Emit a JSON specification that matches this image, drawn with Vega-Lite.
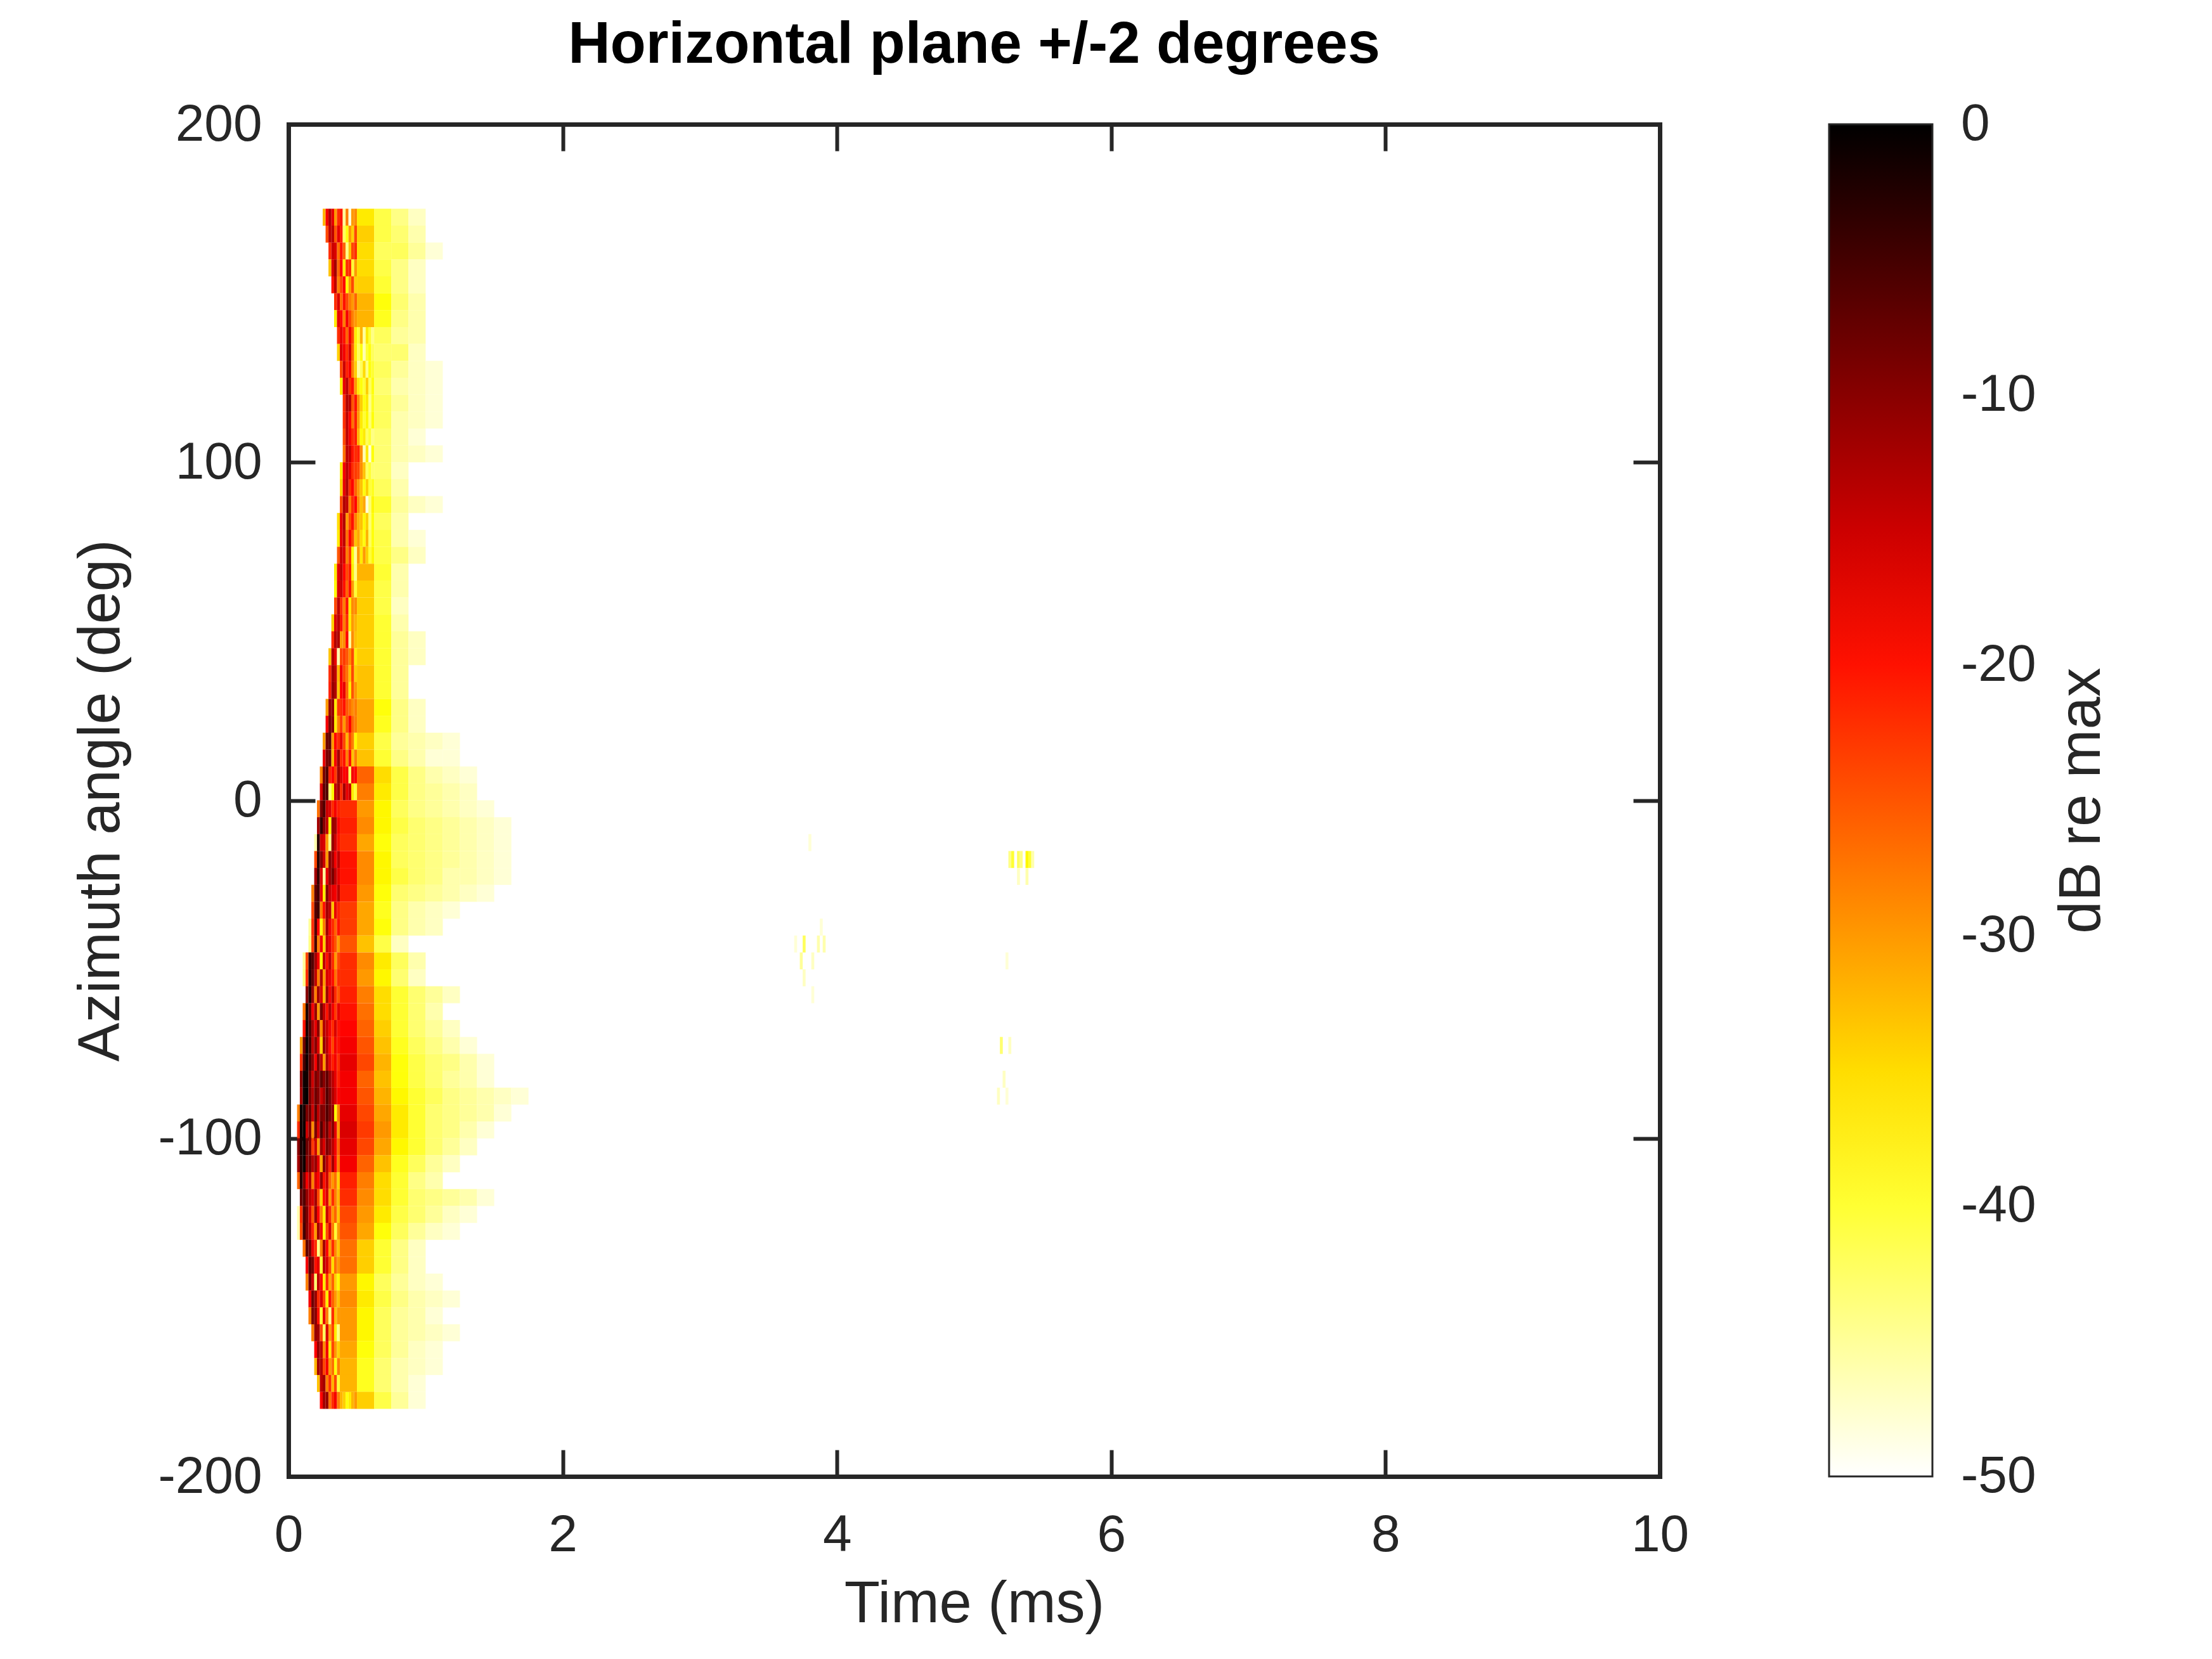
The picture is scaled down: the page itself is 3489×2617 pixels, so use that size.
{
"$schema":"https://vega.github.io/schema/vega-lite/v6.json",
"background":"white",
"padding":{"left":113,"top":25,"right":5,"bottom":5},
"config":{"font":"Liberation Sans","view":{"stroke":null},
"axis":{"grid":false,"domainColor":"#262626","domainWidth":7,"domainCap":"square","tickColor":"#262626","tickWidth":6,"tickSize":-42,"labelFontSize":82,"labelColor":"#262626","labelFont":"Liberation Sans","labelLimit":0,"titleFontSize":92,"titleFont":"Liberation Sans","titleColor":"#262626","titleFontWeight":"normal","titleLimit":0,"labelOverlap":false,"labelExpr":"'' + datum.value"},
"legend":{"padding":0,"labelFont":"Liberation Sans","titleFont":"Liberation Sans"}},
"datasets":{
"core":[
{"a":170,"t":0.25,"v":-32},{"a":170,"t":0.271,"v":-18},{"a":170,"t":0.292,"v":-13},{"a":170,"t":0.313,"v":-17},{"a":170,"t":0.333,"v":-30},{"a":170,"t":0.354,"v":-22},{"a":170,"t":0.375,"v":-20},{"a":170,"t":0.396,"v":-45},{"a":170,"t":0.417,"v":-28},{"a":170,"t":0.438,"v":-48},{"a":170,"t":0.458,"v":-30},{"a":170,"t":0.479,"v":-29},
{"a":165,"t":0.271,"v":-24},{"a":165,"t":0.292,"v":-14},{"a":165,"t":0.313,"v":-14},{"a":165,"t":0.333,"v":-25},{"a":165,"t":0.354,"v":-17},{"a":165,"t":0.375,"v":-21},{"a":165,"t":0.396,"v":-42},{"a":165,"t":0.417,"v":-38},{"a":165,"t":0.438,"v":-30},{"a":165,"t":0.458,"v":-34},{"a":165,"t":0.479,"v":-24},
{"a":160,"t":0.292,"v":-22},{"a":160,"t":0.313,"v":-15},{"a":160,"t":0.333,"v":-16},{"a":160,"t":0.354,"v":-27},{"a":160,"t":0.375,"v":-20},{"a":160,"t":0.396,"v":-26},{"a":160,"t":0.417,"v":-44},{"a":160,"t":0.438,"v":-33},{"a":160,"t":0.458,"v":-24},{"a":160,"t":0.479,"v":-22},
{"a":155,"t":0.292,"v":-33},{"a":155,"t":0.313,"v":-16},{"a":155,"t":0.333,"v":-12},{"a":155,"t":0.354,"v":-26},{"a":155,"t":0.375,"v":-19},{"a":155,"t":0.396,"v":-36},{"a":155,"t":0.417,"v":-22},{"a":155,"t":0.438,"v":-22},{"a":155,"t":0.458,"v":-40},{"a":155,"t":0.479,"v":-30},
{"a":150,"t":0.313,"v":-20},{"a":150,"t":0.333,"v":-14},{"a":150,"t":0.354,"v":-28},{"a":150,"t":0.375,"v":-24},{"a":150,"t":0.396,"v":-19},{"a":150,"t":0.417,"v":-37},{"a":150,"t":0.438,"v":-30},{"a":150,"t":0.458,"v":-24},{"a":150,"t":0.479,"v":-34},
{"a":145,"t":0.333,"v":-22},{"a":145,"t":0.354,"v":-16},{"a":145,"t":0.375,"v":-27},{"a":145,"t":0.396,"v":-20},{"a":145,"t":0.417,"v":-24},{"a":145,"t":0.438,"v":-28},{"a":145,"t":0.458,"v":-30},{"a":145,"t":0.479,"v":-26},
{"a":140,"t":0.333,"v":-36},{"a":140,"t":0.354,"v":-17},{"a":140,"t":0.375,"v":-19},{"a":140,"t":0.396,"v":-28},{"a":140,"t":0.417,"v":-18},{"a":140,"t":0.438,"v":-24},{"a":140,"t":0.458,"v":-28},{"a":140,"t":0.479,"v":-30},
{"a":135,"t":0.354,"v":-22},{"a":135,"t":0.375,"v":-17},{"a":135,"t":0.396,"v":-20},{"a":135,"t":0.417,"v":-26},{"a":135,"t":0.438,"v":-18},{"a":135,"t":0.458,"v":-24},{"a":135,"t":0.479,"v":-36},{"a":135,"t":0.5,"v":-40},{"a":135,"t":0.521,"v":-32},{"a":135,"t":0.542,"v":-45},{"a":135,"t":0.563,"v":-36},{"a":135,"t":0.583,"v":-40},{"a":135,"t":0.604,"v":-44},
{"a":130,"t":0.354,"v":-34},{"a":130,"t":0.375,"v":-16},{"a":130,"t":0.396,"v":-18},{"a":130,"t":0.417,"v":-22},{"a":130,"t":0.438,"v":-16},{"a":130,"t":0.458,"v":-26},{"a":130,"t":0.479,"v":-36},{"a":130,"t":0.5,"v":-42},{"a":130,"t":0.521,"v":-38},{"a":130,"t":0.542,"v":-46},{"a":130,"t":0.563,"v":-40},{"a":130,"t":0.583,"v":-38},{"a":130,"t":0.604,"v":-42},
{"a":125,"t":0.375,"v":-24},{"a":125,"t":0.396,"v":-15},{"a":125,"t":0.417,"v":-21},{"a":125,"t":0.438,"v":-18},{"a":125,"t":0.458,"v":-28},{"a":125,"t":0.479,"v":-34},{"a":125,"t":0.5,"v":-45},{"a":125,"t":0.521,"v":-42},{"a":125,"t":0.542,"v":-35},{"a":125,"t":0.563,"v":-44},{"a":125,"t":0.583,"v":-38},{"a":125,"t":0.604,"v":-40},
{"a":120,"t":0.375,"v":-36},{"a":120,"t":0.396,"v":-17},{"a":120,"t":0.417,"v":-14},{"a":120,"t":0.438,"v":-22},{"a":120,"t":0.458,"v":-20},{"a":120,"t":0.479,"v":-30},{"a":120,"t":0.5,"v":-36},{"a":120,"t":0.521,"v":-38},{"a":120,"t":0.542,"v":-40},{"a":120,"t":0.563,"v":-34},{"a":120,"t":0.583,"v":-42},{"a":120,"t":0.604,"v":-38},
{"a":115,"t":0.396,"v":-22},{"a":115,"t":0.417,"v":-13},{"a":115,"t":0.438,"v":-14},{"a":115,"t":0.458,"v":-25},{"a":115,"t":0.479,"v":-20},{"a":115,"t":0.5,"v":-29},{"a":115,"t":0.521,"v":-34},{"a":115,"t":0.542,"v":-38},{"a":115,"t":0.563,"v":-36},{"a":115,"t":0.583,"v":-44},{"a":115,"t":0.604,"v":-39},
{"a":110,"t":0.396,"v":-22},{"a":110,"t":0.417,"v":-14},{"a":110,"t":0.438,"v":-19},{"a":110,"t":0.458,"v":-27},{"a":110,"t":0.479,"v":-21},{"a":110,"t":0.5,"v":-30},{"a":110,"t":0.521,"v":-36},{"a":110,"t":0.542,"v":-40},{"a":110,"t":0.563,"v":-37},{"a":110,"t":0.583,"v":-43},{"a":110,"t":0.604,"v":-38},
{"a":105,"t":0.396,"v":-24},{"a":105,"t":0.417,"v":-14},{"a":105,"t":0.438,"v":-18},{"a":105,"t":0.458,"v":-22},{"a":105,"t":0.479,"v":-21},{"a":105,"t":0.5,"v":-32},{"a":105,"t":0.521,"v":-38},{"a":105,"t":0.542,"v":-36},{"a":105,"t":0.563,"v":-42},{"a":105,"t":0.583,"v":-40},{"a":105,"t":0.604,"v":-44},
{"a":100,"t":0.396,"v":-27},{"a":100,"t":0.417,"v":-14},{"a":100,"t":0.438,"v":-15},{"a":100,"t":0.458,"v":-20},{"a":100,"t":0.479,"v":-22},{"a":100,"t":0.5,"v":-21},{"a":100,"t":0.521,"v":-29},{"a":100,"t":0.542,"v":-46},{"a":100,"t":0.563,"v":-36},{"a":100,"t":0.583,"v":-48},{"a":100,"t":0.604,"v":-38},
{"a":95,"t":0.375,"v":-36},{"a":95,"t":0.396,"v":-18},{"a":95,"t":0.417,"v":-14},{"a":95,"t":0.438,"v":-17},{"a":95,"t":0.458,"v":-22},{"a":95,"t":0.479,"v":-23},{"a":95,"t":0.5,"v":-24},{"a":95,"t":0.521,"v":-29},{"a":95,"t":0.542,"v":-33},{"a":95,"t":0.563,"v":-42},{"a":95,"t":0.583,"v":-40},{"a":95,"t":0.604,"v":-43},
{"a":90,"t":0.375,"v":-34},{"a":90,"t":0.396,"v":-17},{"a":90,"t":0.417,"v":-13},{"a":90,"t":0.438,"v":-22},{"a":90,"t":0.458,"v":-19},{"a":90,"t":0.479,"v":-26},{"a":90,"t":0.5,"v":-30},{"a":90,"t":0.521,"v":-33},{"a":90,"t":0.542,"v":-38},{"a":90,"t":0.563,"v":-34},{"a":90,"t":0.583,"v":-40},{"a":90,"t":0.604,"v":-39},
{"a":85,"t":0.375,"v":-24},{"a":85,"t":0.396,"v":-13},{"a":85,"t":0.417,"v":-14},{"a":85,"t":0.438,"v":-28},{"a":85,"t":0.458,"v":-22},{"a":85,"t":0.479,"v":-19},{"a":85,"t":0.5,"v":-29},{"a":85,"t":0.521,"v":-33},{"a":85,"t":0.542,"v":-31},{"a":85,"t":0.563,"v":-48},{"a":85,"t":0.583,"v":-43},{"a":85,"t":0.604,"v":-37},
{"a":80,"t":0.354,"v":-35},{"a":80,"t":0.375,"v":-17},{"a":80,"t":0.396,"v":-13},{"a":80,"t":0.417,"v":-30},{"a":80,"t":0.438,"v":-24},{"a":80,"t":0.458,"v":-20},{"a":80,"t":0.479,"v":-28},{"a":80,"t":0.5,"v":-32},{"a":80,"t":0.521,"v":-33},{"a":80,"t":0.542,"v":-37},{"a":80,"t":0.563,"v":-34},{"a":80,"t":0.583,"v":-43},{"a":80,"t":0.604,"v":-38},
{"a":75,"t":0.354,"v":-36},{"a":75,"t":0.375,"v":-17},{"a":75,"t":0.396,"v":-14},{"a":75,"t":0.417,"v":-27},{"a":75,"t":0.438,"v":-19},{"a":75,"t":0.458,"v":-24},{"a":75,"t":0.479,"v":-33},{"a":75,"t":0.5,"v":-31},{"a":75,"t":0.521,"v":-35},{"a":75,"t":0.542,"v":-38},{"a":75,"t":0.563,"v":-32},{"a":75,"t":0.583,"v":-42},{"a":75,"t":0.604,"v":-38},
{"a":70,"t":0.354,"v":-25},{"a":70,"t":0.375,"v":-15},{"a":70,"t":0.396,"v":-16},{"a":70,"t":0.417,"v":-28},{"a":70,"t":0.438,"v":-23},{"a":70,"t":0.458,"v":-37},{"a":70,"t":0.479,"v":-45},{"a":70,"t":0.5,"v":-30},{"a":70,"t":0.521,"v":-36},{"a":70,"t":0.542,"v":-30},{"a":70,"t":0.563,"v":-34},{"a":70,"t":0.583,"v":-40},{"a":70,"t":0.604,"v":-37},
{"a":65,"t":0.333,"v":-36},{"a":65,"t":0.354,"v":-17},{"a":65,"t":0.375,"v":-14},{"a":65,"t":0.396,"v":-19},{"a":65,"t":0.417,"v":-24},{"a":65,"t":0.438,"v":-21},{"a":65,"t":0.458,"v":-36},{"a":65,"t":0.479,"v":-44},
{"a":60,"t":0.333,"v":-37},{"a":60,"t":0.354,"v":-16},{"a":60,"t":0.375,"v":-15},{"a":60,"t":0.396,"v":-20},{"a":60,"t":0.417,"v":-26},{"a":60,"t":0.438,"v":-20},{"a":60,"t":0.458,"v":-30},{"a":60,"t":0.479,"v":-40},
{"a":55,"t":0.333,"v":-24},{"a":55,"t":0.354,"v":-14},{"a":55,"t":0.375,"v":-22},{"a":55,"t":0.396,"v":-28},{"a":55,"t":0.417,"v":-20},{"a":55,"t":0.438,"v":-36},{"a":55,"t":0.458,"v":-29},{"a":55,"t":0.479,"v":-29},
{"a":50,"t":0.313,"v":-34},{"a":50,"t":0.333,"v":-16},{"a":50,"t":0.354,"v":-14},{"a":50,"t":0.375,"v":-20},{"a":50,"t":0.396,"v":-28},{"a":50,"t":0.417,"v":-22},{"a":50,"t":0.438,"v":-36},{"a":50,"t":0.458,"v":-30},{"a":50,"t":0.479,"v":-32},
{"a":45,"t":0.313,"v":-22},{"a":45,"t":0.333,"v":-13},{"a":45,"t":0.354,"v":-13},{"a":45,"t":0.375,"v":-30},{"a":45,"t":0.396,"v":-29},{"a":45,"t":0.417,"v":-19},{"a":45,"t":0.438,"v":-45},{"a":45,"t":0.458,"v":-29},{"a":45,"t":0.479,"v":-33},
{"a":40,"t":0.292,"v":-33},{"a":40,"t":0.313,"v":-13},{"a":40,"t":0.333,"v":-17},{"a":40,"t":0.354,"v":-46},{"a":40,"t":0.375,"v":-24},{"a":40,"t":0.396,"v":-23},{"a":40,"t":0.417,"v":-25},{"a":40,"t":0.438,"v":-29},{"a":40,"t":0.458,"v":-24},{"a":40,"t":0.479,"v":-36},
{"a":35,"t":0.292,"v":-22},{"a":35,"t":0.313,"v":-12},{"a":35,"t":0.333,"v":-14},{"a":35,"t":0.354,"v":-32},{"a":35,"t":0.375,"v":-18},{"a":35,"t":0.396,"v":-24},{"a":35,"t":0.417,"v":-27},{"a":35,"t":0.438,"v":-33},{"a":35,"t":0.458,"v":-24},{"a":35,"t":0.479,"v":-34},
{"a":30,"t":0.292,"v":-21},{"a":30,"t":0.313,"v":-11},{"a":30,"t":0.333,"v":-13},{"a":30,"t":0.354,"v":-33},{"a":30,"t":0.375,"v":-19},{"a":30,"t":0.396,"v":-17},{"a":30,"t":0.417,"v":-26},{"a":30,"t":0.438,"v":-36},{"a":30,"t":0.458,"v":-25},{"a":30,"t":0.479,"v":-30},
{"a":25,"t":0.271,"v":-30},{"a":25,"t":0.292,"v":-11},{"a":25,"t":0.313,"v":-11},{"a":25,"t":0.333,"v":-36},{"a":25,"t":0.354,"v":-23},{"a":25,"t":0.375,"v":-22},{"a":25,"t":0.396,"v":-20},{"a":25,"t":0.417,"v":-25},{"a":25,"t":0.438,"v":-27},{"a":25,"t":0.458,"v":-29},{"a":25,"t":0.479,"v":-28},
{"a":20,"t":0.271,"v":-18},{"a":20,"t":0.292,"v":-9},{"a":20,"t":0.313,"v":-10},{"a":20,"t":0.333,"v":-36},{"a":20,"t":0.354,"v":-28},{"a":20,"t":0.375,"v":-23},{"a":20,"t":0.396,"v":-30},{"a":20,"t":0.417,"v":-24},{"a":20,"t":0.438,"v":-19},{"a":20,"t":0.458,"v":-26},{"a":20,"t":0.479,"v":-28},
{"a":15,"t":0.25,"v":-30},{"a":15,"t":0.271,"v":-8},{"a":15,"t":0.292,"v":-7},{"a":15,"t":0.313,"v":-30},{"a":15,"t":0.333,"v":-19},{"a":15,"t":0.354,"v":-22},{"a":15,"t":0.375,"v":-17},{"a":15,"t":0.396,"v":-24},{"a":15,"t":0.417,"v":-32},{"a":15,"t":0.438,"v":-24},{"a":15,"t":0.458,"v":-28},{"a":15,"t":0.479,"v":-37},
{"a":10,"t":0.25,"v":-17},{"a":10,"t":0.271,"v":-9},{"a":10,"t":0.292,"v":-8},{"a":10,"t":0.313,"v":-32},{"a":10,"t":0.333,"v":-18},{"a":10,"t":0.354,"v":-12},{"a":10,"t":0.375,"v":-22},{"a":10,"t":0.396,"v":-20},{"a":10,"t":0.417,"v":-28},{"a":10,"t":0.438,"v":-20},{"a":10,"t":0.458,"v":-33},{"a":10,"t":0.479,"v":-28},
{"a":5,"t":0.229,"v":-28},{"a":5,"t":0.25,"v":-9},{"a":5,"t":0.271,"v":-6},{"a":5,"t":0.292,"v":-21},{"a":5,"t":0.313,"v":-19},{"a":5,"t":0.333,"v":-23},{"a":5,"t":0.354,"v":-12},{"a":5,"t":0.375,"v":-16},{"a":5,"t":0.396,"v":-19},{"a":5,"t":0.417,"v":-18},{"a":5,"t":0.438,"v":-42},{"a":5,"t":0.458,"v":-18},{"a":5,"t":0.479,"v":-19},
{"a":0,"t":0.229,"v":-16},{"a":0,"t":0.25,"v":-7},{"a":0,"t":0.271,"v":-6},{"a":0,"t":0.292,"v":-43},{"a":0,"t":0.313,"v":-37},{"a":0,"t":0.333,"v":-14},{"a":0,"t":0.354,"v":-12},{"a":0,"t":0.375,"v":-22},{"a":0,"t":0.396,"v":-12},{"a":0,"t":0.417,"v":-17},{"a":0,"t":0.438,"v":-15},{"a":0,"t":0.458,"v":-36},{"a":0,"t":0.479,"v":-40},
{"a":-5,"t":0.208,"v":-27},{"a":-5,"t":0.229,"v":-9},{"a":-5,"t":0.25,"v":-6},{"a":-5,"t":0.271,"v":-15},{"a":-5,"t":0.292,"v":-16},{"a":-5,"t":0.313,"v":-22},{"a":-5,"t":0.333,"v":-18},{"a":-5,"t":0.354,"v":-21},
{"a":-10,"t":0.208,"v":-12},{"a":-10,"t":0.229,"v":-4},{"a":-10,"t":0.25,"v":-10},{"a":-10,"t":0.271,"v":-14},{"a":-10,"t":0.292,"v":-37},{"a":-10,"t":0.313,"v":-11},{"a":-10,"t":0.333,"v":-12},{"a":-10,"t":0.354,"v":-19},
{"a":-15,"t":0.188,"v":-46},{"a":-15,"t":0.208,"v":-3},{"a":-15,"t":0.229,"v":-15},{"a":-15,"t":0.25,"v":-16},{"a":-15,"t":0.271,"v":-30},{"a":-15,"t":0.292,"v":-44},{"a":-15,"t":0.313,"v":-11},{"a":-15,"t":0.333,"v":-15},{"a":-15,"t":0.354,"v":-20},
{"a":-20,"t":0.188,"v":-24},{"a":-20,"t":0.208,"v":-3},{"a":-20,"t":0.229,"v":-10},{"a":-20,"t":0.25,"v":-15},{"a":-20,"t":0.271,"v":-30},{"a":-20,"t":0.292,"v":-10},{"a":-20,"t":0.313,"v":-12},{"a":-20,"t":0.333,"v":-18},{"a":-20,"t":0.354,"v":-14},
{"a":-25,"t":0.188,"v":-12},{"a":-25,"t":0.208,"v":-4},{"a":-25,"t":0.229,"v":-16},{"a":-25,"t":0.25,"v":-45},{"a":-25,"t":0.271,"v":-17},{"a":-25,"t":0.292,"v":-11},{"a":-25,"t":0.313,"v":-9},{"a":-25,"t":0.333,"v":-14},{"a":-25,"t":0.354,"v":-17},
{"a":-30,"t":0.167,"v":-28},{"a":-30,"t":0.188,"v":-7},{"a":-30,"t":0.208,"v":-5},{"a":-30,"t":0.229,"v":-17},{"a":-30,"t":0.25,"v":-36},{"a":-30,"t":0.271,"v":-10},{"a":-30,"t":0.292,"v":-15},{"a":-30,"t":0.313,"v":-17},{"a":-30,"t":0.333,"v":-18},{"a":-30,"t":0.354,"v":-14},
{"a":-35,"t":0.167,"v":-24},{"a":-35,"t":0.188,"v":-6},{"a":-35,"t":0.208,"v":-5},{"a":-35,"t":0.229,"v":-28},{"a":-35,"t":0.25,"v":-20},{"a":-35,"t":0.271,"v":-12},{"a":-35,"t":0.292,"v":-14},{"a":-35,"t":0.313,"v":-33},{"a":-35,"t":0.333,"v":-17},{"a":-35,"t":0.354,"v":-21},
{"a":-40,"t":0.146,"v":-45},{"a":-40,"t":0.167,"v":-22},{"a":-40,"t":0.188,"v":-6},{"a":-40,"t":0.208,"v":-19},{"a":-40,"t":0.229,"v":-38},{"a":-40,"t":0.25,"v":-28},{"a":-40,"t":0.271,"v":-12},{"a":-40,"t":0.292,"v":-18},{"a":-40,"t":0.313,"v":-22},{"a":-40,"t":0.333,"v":-26},{"a":-40,"t":0.354,"v":-20},
{"a":-45,"t":0.146,"v":-44},{"a":-45,"t":0.167,"v":-23},{"a":-45,"t":0.188,"v":-5},{"a":-45,"t":0.208,"v":-28},{"a":-45,"t":0.229,"v":-18},{"a":-45,"t":0.25,"v":-34},{"a":-45,"t":0.271,"v":-15},{"a":-45,"t":0.292,"v":-17},{"a":-45,"t":0.313,"v":-22},{"a":-45,"t":0.333,"v":-25},{"a":-45,"t":0.354,"v":-30},
{"a":-50,"t":0.104,"v":-45},{"a":-50,"t":0.125,"v":-24},{"a":-50,"t":0.146,"v":-4},{"a":-50,"t":0.167,"v":-6},{"a":-50,"t":0.188,"v":-12},{"a":-50,"t":0.208,"v":-18},{"a":-50,"t":0.229,"v":-37},{"a":-50,"t":0.25,"v":-14},{"a":-50,"t":0.271,"v":-20},{"a":-50,"t":0.292,"v":-14},{"a":-50,"t":0.313,"v":-22},{"a":-50,"t":0.333,"v":-30},{"a":-50,"t":0.354,"v":-24},
{"a":-55,"t":0.104,"v":-44},{"a":-55,"t":0.125,"v":-22},{"a":-55,"t":0.146,"v":-3},{"a":-55,"t":0.167,"v":-7},{"a":-55,"t":0.188,"v":-14},{"a":-55,"t":0.208,"v":-28},{"a":-55,"t":0.229,"v":-13},{"a":-55,"t":0.25,"v":-30},{"a":-55,"t":0.271,"v":-16},{"a":-55,"t":0.292,"v":-17},{"a":-55,"t":0.313,"v":-20},{"a":-55,"t":0.333,"v":-27},{"a":-55,"t":0.354,"v":-22},
{"a":-60,"t":0.125,"v":-10},{"a":-60,"t":0.146,"v":-3},{"a":-60,"t":0.167,"v":-11},{"a":-60,"t":0.188,"v":-28},{"a":-60,"t":0.208,"v":-12},{"a":-60,"t":0.229,"v":-16},{"a":-60,"t":0.25,"v":-32},{"a":-60,"t":0.271,"v":-12},{"a":-60,"t":0.292,"v":-18},{"a":-60,"t":0.313,"v":-14},{"a":-60,"t":0.333,"v":-22},{"a":-60,"t":0.354,"v":-25},
{"a":-65,"t":0.104,"v":-27},{"a":-65,"t":0.125,"v":-2},{"a":-65,"t":0.146,"v":-8},{"a":-65,"t":0.167,"v":-18},{"a":-65,"t":0.188,"v":-11},{"a":-65,"t":0.208,"v":-30},{"a":-65,"t":0.229,"v":-9},{"a":-65,"t":0.25,"v":-14},{"a":-65,"t":0.271,"v":-20},{"a":-65,"t":0.292,"v":-13},{"a":-65,"t":0.313,"v":-18},{"a":-65,"t":0.333,"v":-23},{"a":-65,"t":0.354,"v":-17},
{"a":-70,"t":0.104,"v":-20},{"a":-70,"t":0.125,"v":-2},{"a":-70,"t":0.146,"v":-6},{"a":-70,"t":0.167,"v":-12},{"a":-70,"t":0.188,"v":-17},{"a":-70,"t":0.208,"v":-10},{"a":-70,"t":0.229,"v":-29},{"a":-70,"t":0.25,"v":-13},{"a":-70,"t":0.271,"v":-15},{"a":-70,"t":0.292,"v":-18},{"a":-70,"t":0.313,"v":-22},{"a":-70,"t":0.333,"v":-16},{"a":-70,"t":0.354,"v":-20},
{"a":-75,"t":0.083,"v":-30},{"a":-75,"t":0.104,"v":-8},{"a":-75,"t":0.125,"v":-1},{"a":-75,"t":0.146,"v":-5},{"a":-75,"t":0.167,"v":-14},{"a":-75,"t":0.188,"v":-10},{"a":-75,"t":0.208,"v":-16},{"a":-75,"t":0.229,"v":-34},{"a":-75,"t":0.25,"v":-11},{"a":-75,"t":0.271,"v":-14},{"a":-75,"t":0.292,"v":-19},{"a":-75,"t":0.313,"v":-24},{"a":-75,"t":0.333,"v":-18},{"a":-75,"t":0.354,"v":-20},
{"a":-80,"t":0.083,"v":-22},{"a":-80,"t":0.104,"v":-5},{"a":-80,"t":0.125,"v":-1},{"a":-80,"t":0.146,"v":-6},{"a":-80,"t":0.167,"v":-10},{"a":-80,"t":0.188,"v":-18},{"a":-80,"t":0.208,"v":-9},{"a":-80,"t":0.229,"v":-14},{"a":-80,"t":0.25,"v":-30},{"a":-80,"t":0.271,"v":-13},{"a":-80,"t":0.292,"v":-17},{"a":-80,"t":0.313,"v":-21},{"a":-80,"t":0.333,"v":-18},{"a":-80,"t":0.354,"v":-22},
{"a":-85,"t":0.083,"v":-10},{"a":-85,"t":0.104,"v":-1},{"a":-85,"t":0.125,"v":-1},{"a":-85,"t":0.146,"v":-8},{"a":-85,"t":0.167,"v":-15},{"a":-85,"t":0.188,"v":-9},{"a":-85,"t":0.208,"v":-11},{"a":-85,"t":0.229,"v":-7},{"a":-85,"t":0.25,"v":-10},{"a":-85,"t":0.271,"v":-7},{"a":-85,"t":0.292,"v":-11},{"a":-85,"t":0.313,"v":-14},{"a":-85,"t":0.333,"v":-17},{"a":-85,"t":0.354,"v":-21},
{"a":-90,"t":0.083,"v":-12},{"a":-90,"t":0.104,"v":-1},{"a":-90,"t":0.125,"v":0},{"a":-90,"t":0.146,"v":-9},{"a":-90,"t":0.167,"v":-13},{"a":-90,"t":0.188,"v":-8},{"a":-90,"t":0.208,"v":-10},{"a":-90,"t":0.229,"v":-15},{"a":-90,"t":0.25,"v":-12},{"a":-90,"t":0.271,"v":-6},{"a":-90,"t":0.292,"v":-9},{"a":-90,"t":0.313,"v":-13},{"a":-90,"t":0.333,"v":-16},{"a":-90,"t":0.354,"v":-19},
{"a":-95,"t":0.063,"v":-28},{"a":-95,"t":0.083,"v":-1},{"a":-95,"t":0.104,"v":-2},{"a":-95,"t":0.125,"v":-9},{"a":-95,"t":0.146,"v":-8},{"a":-95,"t":0.167,"v":-15},{"a":-95,"t":0.188,"v":-7},{"a":-95,"t":0.208,"v":-14},{"a":-95,"t":0.229,"v":-9},{"a":-95,"t":0.25,"v":-10},{"a":-95,"t":0.271,"v":-6},{"a":-95,"t":0.292,"v":-9},{"a":-95,"t":0.313,"v":-11},{"a":-95,"t":0.333,"v":-37},{"a":-95,"t":0.354,"v":-28},
{"a":-100,"t":0.063,"v":-22},{"a":-100,"t":0.083,"v":-1},{"a":-100,"t":0.104,"v":-1},{"a":-100,"t":0.125,"v":-15},{"a":-100,"t":0.146,"v":-10},{"a":-100,"t":0.167,"v":-29},{"a":-100,"t":0.188,"v":-9},{"a":-100,"t":0.208,"v":-16},{"a":-100,"t":0.229,"v":-6},{"a":-100,"t":0.25,"v":-12},{"a":-100,"t":0.271,"v":-8},{"a":-100,"t":0.292,"v":-14},{"a":-100,"t":0.313,"v":-10},{"a":-100,"t":0.333,"v":-17},{"a":-100,"t":0.354,"v":-30},
{"a":-105,"t":0.063,"v":-10},{"a":-105,"t":0.083,"v":-2},{"a":-105,"t":0.104,"v":-1},{"a":-105,"t":0.125,"v":-8},{"a":-105,"t":0.146,"v":-10},{"a":-105,"t":0.167,"v":-23},{"a":-105,"t":0.188,"v":-15},{"a":-105,"t":0.208,"v":-30},{"a":-105,"t":0.229,"v":-12},{"a":-105,"t":0.25,"v":-16},{"a":-105,"t":0.271,"v":-9},{"a":-105,"t":0.292,"v":-11},{"a":-105,"t":0.313,"v":-14},{"a":-105,"t":0.333,"v":-18},{"a":-105,"t":0.354,"v":-26},
{"a":-110,"t":0.063,"v":-12},{"a":-110,"t":0.083,"v":-3},{"a":-110,"t":0.104,"v":-1},{"a":-110,"t":0.125,"v":-10},{"a":-110,"t":0.146,"v":-9},{"a":-110,"t":0.167,"v":-13},{"a":-110,"t":0.188,"v":-11},{"a":-110,"t":0.208,"v":-17},{"a":-110,"t":0.229,"v":-31},{"a":-110,"t":0.25,"v":-10},{"a":-110,"t":0.271,"v":-14},{"a":-110,"t":0.292,"v":-21},{"a":-110,"t":0.313,"v":-12},{"a":-110,"t":0.333,"v":-19},{"a":-110,"t":0.354,"v":-28},
{"a":-115,"t":0.063,"v":-26},{"a":-115,"t":0.083,"v":-3},{"a":-115,"t":0.104,"v":-9},{"a":-115,"t":0.125,"v":-18},{"a":-115,"t":0.146,"v":-13},{"a":-115,"t":0.167,"v":-28},{"a":-115,"t":0.188,"v":-16},{"a":-115,"t":0.208,"v":-19},{"a":-115,"t":0.229,"v":-11},{"a":-115,"t":0.25,"v":-20},{"a":-115,"t":0.271,"v":-15},{"a":-115,"t":0.292,"v":-26},{"a":-115,"t":0.313,"v":-30},{"a":-115,"t":0.333,"v":-27},{"a":-115,"t":0.354,"v":-34},
{"a":-120,"t":0.083,"v":-8},{"a":-120,"t":0.104,"v":-6},{"a":-120,"t":0.125,"v":-11},{"a":-120,"t":0.146,"v":-14},{"a":-120,"t":0.167,"v":-16},{"a":-120,"t":0.188,"v":-12},{"a":-120,"t":0.208,"v":-24},{"a":-120,"t":0.229,"v":-34},{"a":-120,"t":0.25,"v":-20},{"a":-120,"t":0.271,"v":-16},{"a":-120,"t":0.292,"v":-30},{"a":-120,"t":0.313,"v":-22},{"a":-120,"t":0.333,"v":-28},{"a":-120,"t":0.354,"v":-32},
{"a":-125,"t":0.063,"v":-46},{"a":-125,"t":0.083,"v":-22},{"a":-125,"t":0.104,"v":-6},{"a":-125,"t":0.125,"v":-9},{"a":-125,"t":0.146,"v":-16},{"a":-125,"t":0.167,"v":-25},{"a":-125,"t":0.188,"v":-11},{"a":-125,"t":0.208,"v":-19},{"a":-125,"t":0.229,"v":-28},{"a":-125,"t":0.25,"v":-36},{"a":-125,"t":0.271,"v":-15},{"a":-125,"t":0.292,"v":-22},{"a":-125,"t":0.313,"v":-30},{"a":-125,"t":0.333,"v":-26},{"a":-125,"t":0.354,"v":-33},
{"a":-130,"t":0.063,"v":-46},{"a":-130,"t":0.083,"v":-24},{"a":-130,"t":0.104,"v":-5},{"a":-130,"t":0.125,"v":-10},{"a":-130,"t":0.146,"v":-14},{"a":-130,"t":0.167,"v":-21},{"a":-130,"t":0.188,"v":-30},{"a":-130,"t":0.208,"v":-12},{"a":-130,"t":0.229,"v":-18},{"a":-130,"t":0.25,"v":-38},{"a":-130,"t":0.271,"v":-24},{"a":-130,"t":0.292,"v":-16},{"a":-130,"t":0.313,"v":-28},{"a":-130,"t":0.333,"v":-40},{"a":-130,"t":0.354,"v":-30},
{"a":-135,"t":0.104,"v":-27},{"a":-135,"t":0.125,"v":-7},{"a":-135,"t":0.146,"v":-9},{"a":-135,"t":0.167,"v":-17},{"a":-135,"t":0.188,"v":-22},{"a":-135,"t":0.208,"v":-44},{"a":-135,"t":0.229,"v":-28},{"a":-135,"t":0.25,"v":-12},{"a":-135,"t":0.271,"v":-19},{"a":-135,"t":0.292,"v":-30},{"a":-135,"t":0.313,"v":-22},{"a":-135,"t":0.333,"v":-29},{"a":-135,"t":0.354,"v":-33},
{"a":-140,"t":0.125,"v":-18},{"a":-140,"t":0.146,"v":-7},{"a":-140,"t":0.167,"v":-9},{"a":-140,"t":0.188,"v":-20},{"a":-140,"t":0.208,"v":-17},{"a":-140,"t":0.229,"v":-40},{"a":-140,"t":0.25,"v":-14},{"a":-140,"t":0.271,"v":-16},{"a":-140,"t":0.292,"v":-24},{"a":-140,"t":0.313,"v":-35},{"a":-140,"t":0.333,"v":-27},{"a":-140,"t":0.354,"v":-30},
{"a":-145,"t":0.125,"v":-28},{"a":-145,"t":0.146,"v":-9},{"a":-145,"t":0.167,"v":-15},{"a":-145,"t":0.188,"v":-43},{"a":-145,"t":0.208,"v":-14},{"a":-145,"t":0.229,"v":-19},{"a":-145,"t":0.25,"v":-36},{"a":-145,"t":0.271,"v":-22},{"a":-145,"t":0.292,"v":-31},{"a":-145,"t":0.313,"v":-26},{"a":-145,"t":0.333,"v":-34},{"a":-145,"t":0.354,"v":-37},
{"a":-150,"t":0.146,"v":-18},{"a":-150,"t":0.167,"v":-8},{"a":-150,"t":0.188,"v":-11},{"a":-150,"t":0.208,"v":-22},{"a":-150,"t":0.229,"v":-16},{"a":-150,"t":0.25,"v":-24},{"a":-150,"t":0.271,"v":-36},{"a":-150,"t":0.292,"v":-20},{"a":-150,"t":0.313,"v":-26},{"a":-150,"t":0.333,"v":-30},{"a":-150,"t":0.354,"v":-33},
{"a":-155,"t":0.146,"v":-28},{"a":-155,"t":0.167,"v":-9},{"a":-155,"t":0.188,"v":-10},{"a":-155,"t":0.208,"v":-20},{"a":-155,"t":0.229,"v":-40},{"a":-155,"t":0.25,"v":-17},{"a":-155,"t":0.271,"v":-28},{"a":-155,"t":0.292,"v":-44},{"a":-155,"t":0.313,"v":-22},{"a":-155,"t":0.333,"v":-33},{"a":-155,"t":0.354,"v":-30},
{"a":-160,"t":0.167,"v":-28},{"a":-160,"t":0.188,"v":-11},{"a":-160,"t":0.208,"v":-12},{"a":-160,"t":0.229,"v":-24},{"a":-160,"t":0.25,"v":-42},{"a":-160,"t":0.271,"v":-16},{"a":-160,"t":0.292,"v":-30},{"a":-160,"t":0.313,"v":-24},{"a":-160,"t":0.333,"v":-36},{"a":-160,"t":0.354,"v":-44},
{"a":-165,"t":0.188,"v":-19},{"a":-165,"t":0.208,"v":-11},{"a":-165,"t":0.229,"v":-14},{"a":-165,"t":0.25,"v":-29},{"a":-165,"t":0.271,"v":-18},{"a":-165,"t":0.292,"v":-36},{"a":-165,"t":0.313,"v":-24},{"a":-165,"t":0.333,"v":-30},{"a":-165,"t":0.354,"v":-34},
{"a":-170,"t":0.188,"v":-32},{"a":-170,"t":0.208,"v":-12},{"a":-170,"t":0.229,"v":-13},{"a":-170,"t":0.25,"v":-24},{"a":-170,"t":0.271,"v":-18},{"a":-170,"t":0.292,"v":-30},{"a":-170,"t":0.313,"v":-27},{"a":-170,"t":0.333,"v":-38},{"a":-170,"t":0.354,"v":-28},
{"a":-175,"t":0.208,"v":-33},{"a":-175,"t":0.229,"v":-14},{"a":-175,"t":0.25,"v":-12},{"a":-175,"t":0.271,"v":-28},{"a":-175,"t":0.292,"v":-22},{"a":-175,"t":0.313,"v":-32},{"a":-175,"t":0.333,"v":-24},{"a":-175,"t":0.354,"v":-40},
{"a":-180,"t":0.229,"v":-19},{"a":-180,"t":0.25,"v":-12},{"a":-180,"t":0.271,"v":-11},{"a":-180,"t":0.292,"v":-27},{"a":-180,"t":0.313,"v":-22},{"a":-180,"t":0.333,"v":-18},{"a":-180,"t":0.354,"v":-28},{"a":-180,"t":0.375,"v":-32},{"a":-180,"t":0.396,"v":-34},{"a":-180,"t":0.417,"v":-38},{"a":-180,"t":0.438,"v":-36},{"a":-180,"t":0.458,"v":-32},{"a":-180,"t":0.479,"v":-30},
{"a":-20,"t":5.25,"v":-44},{"a":-20,"t":5.271,"v":-40},{"a":-20,"t":5.313,"v":-42},{"a":-20,"t":5.333,"v":-44},{"a":-20,"t":5.375,"v":-37},{"a":-20,"t":5.396,"v":-40},{"a":-20,"t":5.417,"v":-46},
{"a":-25,"t":5.313,"v":-47},{"a":-25,"t":5.375,"v":-46},{"a":-50,"t":5.229,"v":-48},{"a":-75,"t":5.188,"v":-43},{"a":-75,"t":5.25,"v":-47},{"a":-85,"t":5.208,"v":-47},{"a":-90,"t":5.167,"v":-47},{"a":-90,"t":5.229,"v":-48},
{"a":-45,"t":3.688,"v":-48},{"a":-45,"t":3.75,"v":-42},{"a":-45,"t":3.854,"v":-46},{"a":-45,"t":3.896,"v":-46},{"a":-40,"t":3.875,"v":-48},{"a":-50,"t":3.729,"v":-45},{"a":-50,"t":3.813,"v":-47},{"a":-55,"t":3.75,"v":-47},{"a":-60,"t":3.813,"v":-48},{"a":-15,"t":3.792,"v":-48}
],
"tail":[
{"a":170,"t":0.5,"v":-36},{"a":170,"t":0.625,"v":-41},{"a":170,"t":0.75,"v":-44},{"a":170,"t":0.875,"v":-47},
{"a":165,"t":0.5,"v":-34},{"a":165,"t":0.625,"v":-41},{"a":165,"t":0.75,"v":-43},{"a":165,"t":0.875,"v":-46},
{"a":160,"t":0.5,"v":-35},{"a":160,"t":0.625,"v":-42},{"a":160,"t":0.75,"v":-42},{"a":160,"t":0.875,"v":-45},{"a":160,"t":1,"v":-48},
{"a":155,"t":0.5,"v":-35},{"a":155,"t":0.625,"v":-41},{"a":155,"t":0.75,"v":-44},{"a":155,"t":0.875,"v":-47},
{"a":150,"t":0.5,"v":-34},{"a":150,"t":0.625,"v":-40},{"a":150,"t":0.75,"v":-44},{"a":150,"t":0.875,"v":-47},
{"a":145,"t":0.5,"v":-32},{"a":145,"t":0.625,"v":-38},{"a":145,"t":0.75,"v":-43},{"a":145,"t":0.875,"v":-46},
{"a":140,"t":0.5,"v":-32},{"a":140,"t":0.625,"v":-39},{"a":140,"t":0.75,"v":-44},{"a":140,"t":0.875,"v":-46},
{"a":135,"t":0.625,"v":-42},{"a":135,"t":0.75,"v":-45},{"a":135,"t":0.875,"v":-46},
{"a":130,"t":0.625,"v":-43},{"a":130,"t":0.75,"v":-43},{"a":130,"t":0.875,"v":-47},
{"a":125,"t":0.625,"v":-42},{"a":125,"t":0.75,"v":-45},{"a":125,"t":0.875,"v":-47},{"a":125,"t":1,"v":-48},
{"a":120,"t":0.625,"v":-43},{"a":120,"t":0.75,"v":-46},{"a":120,"t":0.875,"v":-47},{"a":120,"t":1,"v":-48},
{"a":115,"t":0.625,"v":-42},{"a":115,"t":0.75,"v":-45},{"a":115,"t":0.875,"v":-47},{"a":115,"t":1,"v":-48},
{"a":110,"t":0.625,"v":-42},{"a":110,"t":0.75,"v":-46},{"a":110,"t":0.875,"v":-47},{"a":110,"t":1,"v":-48},
{"a":105,"t":0.625,"v":-43},{"a":105,"t":0.75,"v":-46},{"a":105,"t":0.875,"v":-48},
{"a":100,"t":0.625,"v":-43},{"a":100,"t":0.75,"v":-46},{"a":100,"t":0.875,"v":-47},{"a":100,"t":1,"v":-48},
{"a":95,"t":0.625,"v":-43},{"a":95,"t":0.75,"v":-47},
{"a":90,"t":0.625,"v":-42},{"a":90,"t":0.75,"v":-46},
{"a":85,"t":0.625,"v":-40},{"a":85,"t":0.75,"v":-45},{"a":85,"t":0.875,"v":-47},{"a":85,"t":1,"v":-48},
{"a":80,"t":0.625,"v":-42},{"a":80,"t":0.75,"v":-46},
{"a":75,"t":0.625,"v":-41},{"a":75,"t":0.75,"v":-46},{"a":75,"t":0.875,"v":-48},
{"a":70,"t":0.625,"v":-41},{"a":70,"t":0.75,"v":-44},{"a":70,"t":0.875,"v":-47},
{"a":65,"t":0.5,"v":-32},{"a":65,"t":0.625,"v":-40},{"a":65,"t":0.75,"v":-46},
{"a":60,"t":0.5,"v":-34},{"a":60,"t":0.625,"v":-41},{"a":60,"t":0.75,"v":-46},
{"a":55,"t":0.5,"v":-34},{"a":55,"t":0.625,"v":-41},{"a":55,"t":0.75,"v":-47},
{"a":50,"t":0.5,"v":-34},{"a":50,"t":0.625,"v":-40},{"a":50,"t":0.75,"v":-46},
{"a":45,"t":0.5,"v":-34},{"a":45,"t":0.625,"v":-40},{"a":45,"t":0.75,"v":-45},{"a":45,"t":0.875,"v":-47},
{"a":40,"t":0.5,"v":-34},{"a":40,"t":0.625,"v":-40},{"a":40,"t":0.75,"v":-45},{"a":40,"t":0.875,"v":-47},
{"a":35,"t":0.5,"v":-33},{"a":35,"t":0.625,"v":-40},{"a":35,"t":0.75,"v":-45},
{"a":30,"t":0.5,"v":-33},{"a":30,"t":0.625,"v":-40},{"a":30,"t":0.75,"v":-45},
{"a":25,"t":0.5,"v":-31},{"a":25,"t":0.625,"v":-38},{"a":25,"t":0.75,"v":-44},{"a":25,"t":0.875,"v":-47},
{"a":20,"t":0.5,"v":-31},{"a":20,"t":0.625,"v":-39},{"a":20,"t":0.75,"v":-44},{"a":20,"t":0.875,"v":-47},
{"a":15,"t":0.5,"v":-34},{"a":15,"t":0.625,"v":-41},{"a":15,"t":0.75,"v":-45},{"a":15,"t":0.875,"v":-46},{"a":15,"t":1,"v":-47},{"a":15,"t":1.125,"v":-48},
{"a":10,"t":0.5,"v":-33},{"a":10,"t":0.625,"v":-40},{"a":10,"t":0.75,"v":-44},{"a":10,"t":0.875,"v":-46},{"a":10,"t":1,"v":-48},{"a":10,"t":1.125,"v":-48},
{"a":5,"t":0.5,"v":-26},{"a":5,"t":0.625,"v":-35},{"a":5,"t":0.75,"v":-41},{"a":5,"t":0.875,"v":-44},{"a":5,"t":1,"v":-46},{"a":5,"t":1.125,"v":-47},{"a":5,"t":1.25,"v":-48},
{"a":0,"t":0.5,"v":-28},{"a":0,"t":0.625,"v":-36},{"a":0,"t":0.75,"v":-41},{"a":0,"t":0.875,"v":-44},{"a":0,"t":1,"v":-45},{"a":0,"t":1.125,"v":-46},{"a":0,"t":1.25,"v":-47},
{"a":-5,"t":0.375,"v":-22},{"a":-5,"t":0.5,"v":-30},{"a":-5,"t":0.625,"v":-37},{"a":-5,"t":0.75,"v":-42},{"a":-5,"t":0.875,"v":-44},{"a":-5,"t":1,"v":-45},{"a":-5,"t":1.125,"v":-46},{"a":-5,"t":1.25,"v":-47},{"a":-5,"t":1.375,"v":-48},
{"a":-10,"t":0.375,"v":-21},{"a":-10,"t":0.5,"v":-29},{"a":-10,"t":0.625,"v":-37},{"a":-10,"t":0.75,"v":-41},{"a":-10,"t":0.875,"v":-43},{"a":-10,"t":1,"v":-44},{"a":-10,"t":1.125,"v":-45},{"a":-10,"t":1.25,"v":-46},{"a":-10,"t":1.375,"v":-47},{"a":-10,"t":1.5,"v":-48},
{"a":-15,"t":0.375,"v":-22},{"a":-15,"t":0.5,"v":-31},{"a":-15,"t":0.625,"v":-38},{"a":-15,"t":0.75,"v":-42},{"a":-15,"t":0.875,"v":-43},{"a":-15,"t":1,"v":-44},{"a":-15,"t":1.125,"v":-45},{"a":-15,"t":1.25,"v":-46},{"a":-15,"t":1.375,"v":-47},{"a":-15,"t":1.5,"v":-48},
{"a":-20,"t":0.375,"v":-20},{"a":-20,"t":0.5,"v":-29},{"a":-20,"t":0.625,"v":-37},{"a":-20,"t":0.75,"v":-42},{"a":-20,"t":0.875,"v":-43},{"a":-20,"t":1,"v":-44},{"a":-20,"t":1.125,"v":-45},{"a":-20,"t":1.25,"v":-46},{"a":-20,"t":1.375,"v":-47},{"a":-20,"t":1.5,"v":-48},
{"a":-25,"t":0.375,"v":-20},{"a":-25,"t":0.5,"v":-29},{"a":-25,"t":0.625,"v":-37},{"a":-25,"t":0.75,"v":-41},{"a":-25,"t":0.875,"v":-43},{"a":-25,"t":1,"v":-44},{"a":-25,"t":1.125,"v":-46},{"a":-25,"t":1.25,"v":-46},{"a":-25,"t":1.375,"v":-47},{"a":-25,"t":1.5,"v":-48},
{"a":-30,"t":0.375,"v":-21},{"a":-30,"t":0.5,"v":-30},{"a":-30,"t":0.625,"v":-38},{"a":-30,"t":0.75,"v":-43},{"a":-30,"t":0.875,"v":-44},{"a":-30,"t":1,"v":-45},{"a":-30,"t":1.125,"v":-46},{"a":-30,"t":1.25,"v":-47},{"a":-30,"t":1.375,"v":-48},
{"a":-35,"t":0.375,"v":-23},{"a":-35,"t":0.5,"v":-31},{"a":-35,"t":0.625,"v":-39},{"a":-35,"t":0.75,"v":-44},{"a":-35,"t":0.875,"v":-46},{"a":-35,"t":1,"v":-47},{"a":-35,"t":1.125,"v":-48},
{"a":-40,"t":0.375,"v":-23},{"a":-40,"t":0.5,"v":-31},{"a":-40,"t":0.625,"v":-38},{"a":-40,"t":0.75,"v":-44},{"a":-40,"t":0.875,"v":-46},{"a":-40,"t":1,"v":-47},
{"a":-45,"t":0.375,"v":-25},{"a":-45,"t":0.5,"v":-33},{"a":-45,"t":0.625,"v":-41},{"a":-45,"t":0.75,"v":-47},
{"a":-50,"t":0.375,"v":-22},{"a":-50,"t":0.5,"v":-29},{"a":-50,"t":0.625,"v":-36},{"a":-50,"t":0.75,"v":-42},{"a":-50,"t":0.875,"v":-46},
{"a":-55,"t":0.375,"v":-22},{"a":-55,"t":0.5,"v":-30},{"a":-55,"t":0.625,"v":-37},{"a":-55,"t":0.75,"v":-43},{"a":-55,"t":0.875,"v":-47},
{"a":-60,"t":0.375,"v":-21},{"a":-60,"t":0.5,"v":-28},{"a":-60,"t":0.625,"v":-35},{"a":-60,"t":0.75,"v":-40},{"a":-60,"t":0.875,"v":-43},{"a":-60,"t":1,"v":-45},{"a":-60,"t":1.125,"v":-47},
{"a":-65,"t":0.375,"v":-20},{"a":-65,"t":0.5,"v":-27},{"a":-65,"t":0.625,"v":-35},{"a":-65,"t":0.75,"v":-40},{"a":-65,"t":0.875,"v":-43},{"a":-65,"t":1,"v":-46},
{"a":-70,"t":0.375,"v":-19},{"a":-70,"t":0.5,"v":-26},{"a":-70,"t":0.625,"v":-34},{"a":-70,"t":0.75,"v":-40},{"a":-70,"t":0.875,"v":-43},{"a":-70,"t":1,"v":-45},{"a":-70,"t":1.125,"v":-47},
{"a":-75,"t":0.375,"v":-18},{"a":-75,"t":0.5,"v":-25},{"a":-75,"t":0.625,"v":-33},{"a":-75,"t":0.75,"v":-39},{"a":-75,"t":0.875,"v":-42},{"a":-75,"t":1,"v":-44},{"a":-75,"t":1.125,"v":-46},{"a":-75,"t":1.25,"v":-48},
{"a":-80,"t":0.375,"v":-17},{"a":-80,"t":0.5,"v":-24},{"a":-80,"t":0.625,"v":-32},{"a":-80,"t":0.75,"v":-38},{"a":-80,"t":0.875,"v":-41},{"a":-80,"t":1,"v":-43},{"a":-80,"t":1.125,"v":-44},{"a":-80,"t":1.25,"v":-46},{"a":-80,"t":1.375,"v":-48},
{"a":-85,"t":0.375,"v":-18},{"a":-85,"t":0.5,"v":-26},{"a":-85,"t":0.625,"v":-33},{"a":-85,"t":0.75,"v":-38},{"a":-85,"t":0.875,"v":-41},{"a":-85,"t":1,"v":-43},{"a":-85,"t":1.125,"v":-45},{"a":-85,"t":1.25,"v":-46},{"a":-85,"t":1.375,"v":-48},
{"a":-90,"t":0.375,"v":-18},{"a":-90,"t":0.5,"v":-25},{"a":-90,"t":0.625,"v":-32},{"a":-90,"t":0.75,"v":-37},{"a":-90,"t":0.875,"v":-40},{"a":-90,"t":1,"v":-42},{"a":-90,"t":1.125,"v":-44},{"a":-90,"t":1.25,"v":-45},{"a":-90,"t":1.375,"v":-46},{"a":-90,"t":1.5,"v":-47},{"a":-90,"t":1.625,"v":-48},
{"a":-95,"t":0.375,"v":-17},{"a":-95,"t":0.5,"v":-24},{"a":-95,"t":0.625,"v":-31},{"a":-95,"t":0.75,"v":-36},{"a":-95,"t":0.875,"v":-40},{"a":-95,"t":1,"v":-43},{"a":-95,"t":1.125,"v":-44},{"a":-95,"t":1.25,"v":-45},{"a":-95,"t":1.375,"v":-46},{"a":-95,"t":1.5,"v":-48},
{"a":-100,"t":0.375,"v":-16},{"a":-100,"t":0.5,"v":-23},{"a":-100,"t":0.625,"v":-30},{"a":-100,"t":0.75,"v":-36},{"a":-100,"t":0.875,"v":-40},{"a":-100,"t":1,"v":-43},{"a":-100,"t":1.125,"v":-44},{"a":-100,"t":1.25,"v":-46},{"a":-100,"t":1.375,"v":-48},
{"a":-105,"t":0.375,"v":-17},{"a":-105,"t":0.5,"v":-24},{"a":-105,"t":0.625,"v":-31},{"a":-105,"t":0.75,"v":-37},{"a":-105,"t":0.875,"v":-40},{"a":-105,"t":1,"v":-43},{"a":-105,"t":1.125,"v":-45},{"a":-105,"t":1.25,"v":-47},
{"a":-110,"t":0.375,"v":-18},{"a":-110,"t":0.5,"v":-26},{"a":-110,"t":0.625,"v":-33},{"a":-110,"t":0.75,"v":-39},{"a":-110,"t":0.875,"v":-42},{"a":-110,"t":1,"v":-45},{"a":-110,"t":1.125,"v":-47},
{"a":-115,"t":0.375,"v":-21},{"a":-115,"t":0.5,"v":-28},{"a":-115,"t":0.625,"v":-35},{"a":-115,"t":0.75,"v":-40},{"a":-115,"t":0.875,"v":-44},{"a":-115,"t":1,"v":-46},
{"a":-120,"t":0.375,"v":-22},{"a":-120,"t":0.5,"v":-29},{"a":-120,"t":0.625,"v":-35},{"a":-120,"t":0.75,"v":-40},{"a":-120,"t":0.875,"v":-43},{"a":-120,"t":1,"v":-44},{"a":-120,"t":1.125,"v":-45},{"a":-120,"t":1.25,"v":-46},{"a":-120,"t":1.375,"v":-48},
{"a":-125,"t":0.375,"v":-24},{"a":-125,"t":0.5,"v":-30},{"a":-125,"t":0.625,"v":-36},{"a":-125,"t":0.75,"v":-41},{"a":-125,"t":0.875,"v":-43},{"a":-125,"t":1,"v":-45},{"a":-125,"t":1.125,"v":-47},{"a":-125,"t":1.25,"v":-48},
{"a":-130,"t":0.375,"v":-25},{"a":-130,"t":0.5,"v":-31},{"a":-130,"t":0.625,"v":-38},{"a":-130,"t":0.75,"v":-42},{"a":-130,"t":0.875,"v":-45},{"a":-130,"t":1,"v":-47},{"a":-130,"t":1.125,"v":-48},
{"a":-135,"t":0.375,"v":-27},{"a":-135,"t":0.5,"v":-34},{"a":-135,"t":0.625,"v":-40},{"a":-135,"t":0.75,"v":-44},{"a":-135,"t":0.875,"v":-47},
{"a":-140,"t":0.375,"v":-27},{"a":-140,"t":0.5,"v":-34},{"a":-140,"t":0.625,"v":-40},{"a":-140,"t":0.75,"v":-44},{"a":-140,"t":0.875,"v":-47},
{"a":-145,"t":0.375,"v":-30},{"a":-145,"t":0.5,"v":-37},{"a":-145,"t":0.625,"v":-42},{"a":-145,"t":0.75,"v":-45},{"a":-145,"t":0.875,"v":-47},{"a":-145,"t":1,"v":-48},
{"a":-150,"t":0.375,"v":-29},{"a":-150,"t":0.5,"v":-36},{"a":-150,"t":0.625,"v":-41},{"a":-150,"t":0.75,"v":-44},{"a":-150,"t":0.875,"v":-46},{"a":-150,"t":1,"v":-47},{"a":-150,"t":1.125,"v":-48},
{"a":-155,"t":0.375,"v":-30},{"a":-155,"t":0.5,"v":-37},{"a":-155,"t":0.625,"v":-42},{"a":-155,"t":0.75,"v":-45},{"a":-155,"t":0.875,"v":-46},{"a":-155,"t":1,"v":-48},
{"a":-160,"t":0.375,"v":-30},{"a":-160,"t":0.5,"v":-37},{"a":-160,"t":0.625,"v":-42},{"a":-160,"t":0.75,"v":-45},{"a":-160,"t":0.875,"v":-46},{"a":-160,"t":1,"v":-47},{"a":-160,"t":1.125,"v":-48},
{"a":-165,"t":0.375,"v":-31},{"a":-165,"t":0.5,"v":-38},{"a":-165,"t":0.625,"v":-42},{"a":-165,"t":0.75,"v":-45},{"a":-165,"t":0.875,"v":-47},{"a":-165,"t":1,"v":-48},
{"a":-170,"t":0.375,"v":-32},{"a":-170,"t":0.5,"v":-39},{"a":-170,"t":0.625,"v":-43},{"a":-170,"t":0.75,"v":-46},{"a":-170,"t":0.875,"v":-47},{"a":-170,"t":1,"v":-48},
{"a":-175,"t":0.375,"v":-32},{"a":-175,"t":0.5,"v":-39},{"a":-175,"t":0.625,"v":-43},{"a":-175,"t":0.75,"v":-46},{"a":-175,"t":0.875,"v":-48},
{"a":-180,"t":0.5,"v":-34},{"a":-180,"t":0.625,"v":-41},{"a":-180,"t":0.75,"v":-45},{"a":-180,"t":0.875,"v":-48}
]
},
"width":2163,"height":2133,
"title":{"text":"Horizontal plane +/-2 degrees","fontSize":92,"fontWeight":"bold","color":"#000000","font":"Liberation Sans","frame":"group","anchor":"middle","offset":37},
"layer":[
{"data":{"name":"core"},
"mark":{"type":"rect","width":4.6,"height":26.8,"xOffset":2.25,"yOffset":-13.33},
"encoding":{
"x":{"field":"t","type":"quantitative","scale":{"domain":[0,10],"nice":false,"zero":false},"axis":{"orient":"bottom","values":[0,2,4,6,8,10],"labelFlush":false,"labelPadding":94,"title":"Time (ms)","titlePadding":23}},
"y":{"field":"a","type":"quantitative","scale":{"domain":[-200,200],"nice":false,"zero":false},"axis":{"orient":"left","values":[-200,-100,0,100,200],"labelPadding":84,"title":"Azimuth angle (deg)","titlePadding":49}},
"color":{"field":"v","type":"quantitative","scale":{"type":"linear","domain":[-50,-37.5,-18.75,0],"range":["#ffffff","#ffff00","#ff0000","#000000"],"interpolate":"rgb","clamp":true},
"legend":{"title":"dB re max","orient":"right","offset":264,"direction":"vertical","gradientLength":2133,"gradientThickness":163,"gradientStrokeColor":"#262626","gradientStrokeWidth":3,"values":[-50,-40,-30,-20,-10,0],"labelExpr":"'' + datum.value","labelFontSize":82,"labelColor":"#262626","labelOffset":45,"labelLimit":0,"labelOverlap":false,"titleOrient":"right","titleAnchor":"middle","titleFontSize":92,"titleFontWeight":"normal","titleColor":"#262626","titlePadding":119,"titleLimit":0,
"encode":{"labels":{"update":{"baseline":{"value":"middle"}}},"title":{"update":{"angle":{"value":270}}}}}}}},
{"data":{"name":"tail"},
"mark":{"type":"rect","width":27.2,"height":26.8,"xOffset":13.52,"yOffset":-13.33},
"encoding":{
"x":{"field":"t","type":"quantitative","scale":{"domain":[0,10],"nice":false,"zero":false},"axis":{"orient":"top","values":[0,2,4,6,8,10],"labels":false,"title":null}},
"y":{"field":"a","type":"quantitative","scale":{"domain":[-200,200],"nice":false,"zero":false},"axis":{"orient":"right","values":[-200,-100,0,100,200],"labels":false,"title":null}},
"color":{"field":"v","type":"quantitative","scale":{"type":"linear","domain":[-50,-37.5,-18.75,0],"range":["#ffffff","#ffff00","#ff0000","#000000"],"interpolate":"rgb","clamp":true}}}}
],
"resolve":{"axis":{"x":"independent","y":"independent"}}
}
